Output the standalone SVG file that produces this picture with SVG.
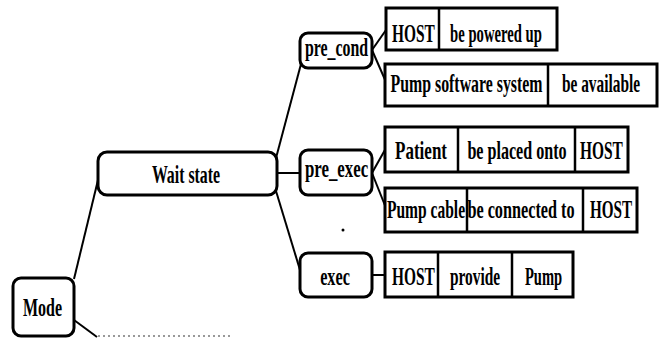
<svg xmlns="http://www.w3.org/2000/svg" width="664" height="339" viewBox="0 0 664 339">
<style>
.node{fill:#fff;stroke:#000;stroke-width:3}
.cell{fill:#fff;stroke:#000;stroke-width:3}
.div{stroke:#000;stroke-width:2.5}
.conn{stroke:#000;stroke-width:2;fill:none}
text{font-family:"Liberation Serif","Times New Roman",serif;font-weight:bold;font-size:26px;fill:#000;text-anchor:middle}
</style>
<rect width="664" height="339" fill="#fff"/>
<g id="connectors">
<line class="conn" x1="74" y1="279" x2="98" y2="180"/>
<line class="conn" x1="74" y1="320" x2="97" y2="337"/>
<line x1="98" y1="336" x2="230" y2="336" stroke="#999" stroke-width="2" stroke-dasharray="2 3"/>
<line class="conn" x1="276" y1="158" x2="301" y2="64"/>
<line class="conn" x1="277" y1="173" x2="300" y2="173"/>
<line class="conn" x1="276" y1="191" x2="300" y2="270"/>
<line class="conn" x1="372" y1="50" x2="386" y2="30"/>
<line class="conn" x1="372" y1="50" x2="386" y2="82"/>
<line class="conn" x1="372" y1="173" x2="386" y2="148"/>
<line class="conn" x1="372" y1="173" x2="386" y2="208"/>
<line class="conn" x1="372" y1="275" x2="386" y2="275"/>
</g>
<g id="mode">
<rect class="node" x="13" y="278" width="61" height="58" rx="8"/>
<text transform="translate(42.5,316) scale(0.62,1)" textLength="63" lengthAdjust="spacingAndGlyphs">Mode</text>
</g>
<g id="wait-state">
<rect class="node" x="98" y="152" width="179" height="43" rx="9"/>
<text transform="translate(186,183) scale(0.62,1)" textLength="110" lengthAdjust="spacingAndGlyphs">Wait state</text>
</g>
<g id="pre-cond">
<rect class="node" x="300" y="33" width="72" height="35" rx="8"/>
<text transform="translate(336.5,56) scale(0.62,1)" textLength="102" lengthAdjust="spacingAndGlyphs">pre_cond</text>
</g>
<g id="pre-exec">
<rect class="node" x="300" y="150" width="72" height="45" rx="8"/>
<text transform="translate(336.5,177) scale(0.62,1)" textLength="102" lengthAdjust="spacingAndGlyphs">pre_exec</text>
</g>
<g id="exec">
<rect class="node" x="300" y="253" width="72" height="44" rx="8"/>
<text transform="translate(335,285) scale(0.62,1)" textLength="48" lengthAdjust="spacingAndGlyphs">exec</text>
</g>
<g id="row-host-powered">
<rect class="cell" x="386" y="8" width="171" height="42"/>
<line class="div" x1="439" y1="8" x2="439" y2="50"/>
<text transform="translate(413.5,42) scale(0.62,1)" textLength="69" lengthAdjust="spacingAndGlyphs">HOST</text>
<text transform="translate(496,42) scale(0.62,1)" textLength="148" lengthAdjust="spacingAndGlyphs">be powered up</text>
</g>
<g id="row-pump-software">
<rect class="cell" x="385" y="64" width="272" height="42"/>
<line class="div" x1="548" y1="64" x2="548" y2="106"/>
<text transform="translate(466.5,92) scale(0.62,1)" textLength="245" lengthAdjust="spacingAndGlyphs">Pump software system</text>
<text transform="translate(601,92) scale(0.62,1)" textLength="126" lengthAdjust="spacingAndGlyphs">be available</text>
</g>
<g id="row-patient">
<rect class="cell" x="385" y="127" width="243" height="45"/>
<line class="div" x1="458" y1="127" x2="458" y2="172"/>
<line class="div" x1="575" y1="127" x2="575" y2="172"/>
<text transform="translate(421,159) scale(0.62,1)" textLength="84" lengthAdjust="spacingAndGlyphs">Patient</text>
<text transform="translate(517,159) scale(0.62,1)" textLength="160" lengthAdjust="spacingAndGlyphs">be placed onto</text>
<text transform="translate(601.5,159) scale(0.62,1)" textLength="69" lengthAdjust="spacingAndGlyphs">HOST</text>
</g>
<g id="row-pump-cable">
<rect class="cell" x="385" y="188" width="252" height="44"/>
<line class="div" x1="467" y1="188" x2="467" y2="232"/>
<line class="div" x1="583" y1="188" x2="583" y2="232"/>
<text transform="translate(426,218) scale(0.62,1)" textLength="126" lengthAdjust="spacingAndGlyphs">Pump cable</text>
<text transform="translate(521,218) scale(0.62,1)" textLength="173" lengthAdjust="spacingAndGlyphs">be connected to</text>
<text transform="translate(611,218) scale(0.62,1)" textLength="68" lengthAdjust="spacingAndGlyphs">HOST</text>
</g>
<g id="row-host-provide">
<rect class="cell" x="385" y="252" width="188" height="45"/>
<line class="div" x1="438" y1="252" x2="438" y2="297"/>
<line class="div" x1="512" y1="252" x2="512" y2="297"/>
<text transform="translate(413.5,285) scale(0.62,1)" textLength="69" lengthAdjust="spacingAndGlyphs">HOST</text>
<text transform="translate(475,285) scale(0.62,1)" textLength="81" lengthAdjust="spacingAndGlyphs">provide</text>
<text transform="translate(543.5,285) scale(0.62,1)" textLength="60" lengthAdjust="spacingAndGlyphs">Pump</text>
</g>
<circle cx="343" cy="230" r="1.5" fill="#000"/>
</svg>
